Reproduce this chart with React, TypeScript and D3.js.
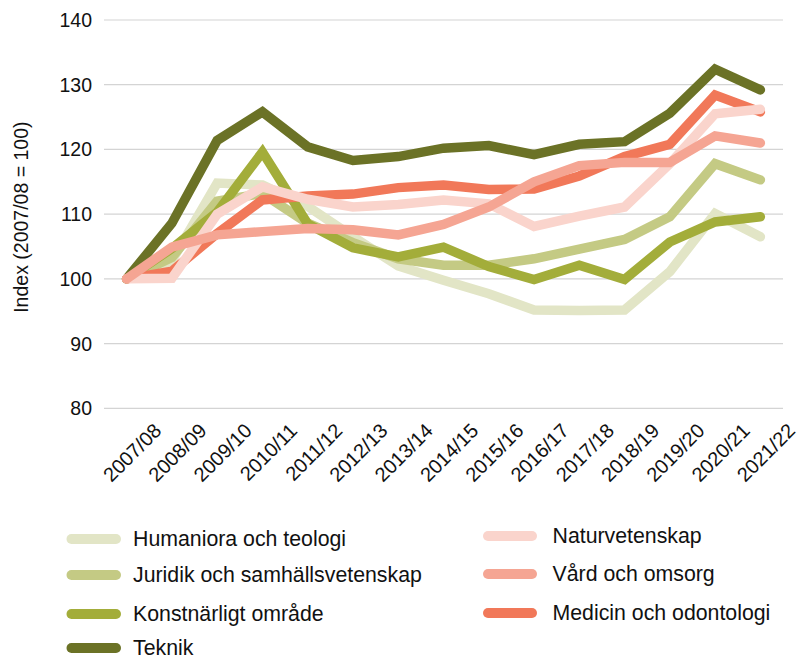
import React from "react";
import * as d3 from "d3";

const years = ["2007/08","2008/09","2009/10","2010/11","2011/12","2012/13","2013/14","2014/15","2015/16","2016/17","2017/18","2018/19","2019/20","2020/21","2021/22"];

const humaniora = [100, 102.8, 114.8, 114.5, 111.2, 106.5, 102.0, 99.8, 97.7, 95.2, 95.1, 95.2, 101.1, 110.1, 106.5];
const juridik = [100, 103.3, 112.0, 113.2, 108.6, 105.6, 103.1, 102.1, 102.1, 103.1, 104.6, 106.1, 109.6, 117.8, 115.3];
const konst = [100, 104.7, 110.3, 119.6, 108.5, 104.8, 103.4, 104.9, 101.9, 99.9, 102.1, 99.9, 105.7, 108.8, 109.6];
const teknik = [100, 108.6, 121.4, 125.8, 120.4, 118.3, 118.9, 120.2, 120.6, 119.2, 120.8, 121.2, 125.6, 132.4, 129.2];
const naturvet = [100, 100.1, 110.0, 114.2, 112.3, 111.1, 111.5, 112.2, 111.6, 108.1, 109.7, 111.1, 117.8, 125.5, 126.2];
const vard = [100, 104.9, 106.8, 107.3, 107.8, 107.6, 106.8, 108.4, 111.1, 115.0, 117.5, 118.0, 118.0, 122.1, 121.0];
const medicin = [100, 101.2, 107.0, 112.2, 112.8, 113.1, 114.1, 114.5, 113.8, 113.9, 115.9, 118.9, 120.8, 128.4, 125.8];

const yTicks = [80, 90, 100, 110, 120, 130, 140];

const series = [
  { name: "Humaniora och teologi", values: humaniora, color: "#E2E5C6" },
  { name: "Juridik och samhällsvetenskap", values: juridik, color: "#C4CA84" },
  { name: "Konstnärligt område", values: konst, color: "#A3AD3A" },
  { name: "Teknik", values: teknik, color: "#6B7226" },
  { name: "Naturvetenskap", values: naturvet, color: "#FAD4CC" },
  { name: "Vård och omsorg", values: vard, color: "#F5A593" },
  { name: "Medicin och odontologi", values: medicin, color: "#F17859" },
];

const drawOrder = [0, 1, 2, 3, 6, 4, 5];

const legendLeft = [0, 1, 2, 3];
const legendRight = [4, 5, 6];
const legendLeftY = [539, 575, 614, 648];
const legendRightY = [536, 574, 613];

const FONT = "'Liberation Sans', Arial, Helvetica, sans-serif";

export default function App() {
  const x = d3.scaleBand<string>().domain(years).range([104, 783]);
  const y = d3.scaleLinear().domain([80, 140]).range([408.3, 20]);
  const line = d3
    .line<number>()
    .x((_, i) => (x(years[i]) as number) + x.bandwidth() / 2)
    .y((d) => y(d));

  return (
    <svg
      width={803}
      height={660}
      style={{ position: "absolute", left: 0, top: 0, background: "#fff" }}
      fontFamily={FONT}
    >
      {yTicks.map((t) => (
        <g key={t}>
          <line x1={104} x2={783} y1={y(t)} y2={y(t)} stroke="#d4d4d4" strokeWidth={1.2} />
          <text x={92} y={y(t)} textAnchor="end" dominantBaseline="central" fontSize={19.5} fill="#111">
            {t}
          </text>
        </g>
      ))}
      <text
        transform={`translate(21,${(y(80) + y(140)) / 2 + 3}) rotate(-90)`}
        textAnchor="middle"
        dominantBaseline="central"
        fontSize={19.5}
        fill="#111"
      >
        Index (2007/08 = 100)
      </text>
      {years.map((yr) => {
        const cx = (x(yr) as number) + x.bandwidth() / 2;
        return (
          <text
            key={yr}
            transform={`translate(${cx + 36},${432}) rotate(-45)`}
            textAnchor="end"
            fontSize={20}
            fill="#111"
          >
            {yr}
          </text>
        );
      })}
      {drawOrder.map((si) => {
        const s = series[si];
        return (
          <path
            key={s.name}
            d={line(s.values) || ""}
            fill="none"
            stroke={s.color}
            strokeWidth={9.5}
            strokeLinecap="round"
            strokeLinejoin="miter"
          />
        );
      })}
      {legendLeft.map((si, k) => (
        <g key={series[si].name}>
          <line x1={71.5} x2={116} y1={legendLeftY[k]} y2={legendLeftY[k]} stroke={series[si].color} strokeWidth={10} strokeLinecap="round" />
          <text x={133} y={legendLeftY[k]} dominantBaseline="central" fontSize={21.3} fill="#111">
            {series[si].name}
          </text>
        </g>
      ))}
      {legendRight.map((si, k) => (
        <g key={series[si].name}>
          <line x1={488} x2={532} y1={legendRightY[k]} y2={legendRightY[k]} stroke={series[si].color} strokeWidth={10} strokeLinecap="round" />
          <text x={552.5} y={legendRightY[k]} dominantBaseline="central" fontSize={21.3} fill="#111">
            {series[si].name}
          </text>
        </g>
      ))}
    </svg>
  );
}
